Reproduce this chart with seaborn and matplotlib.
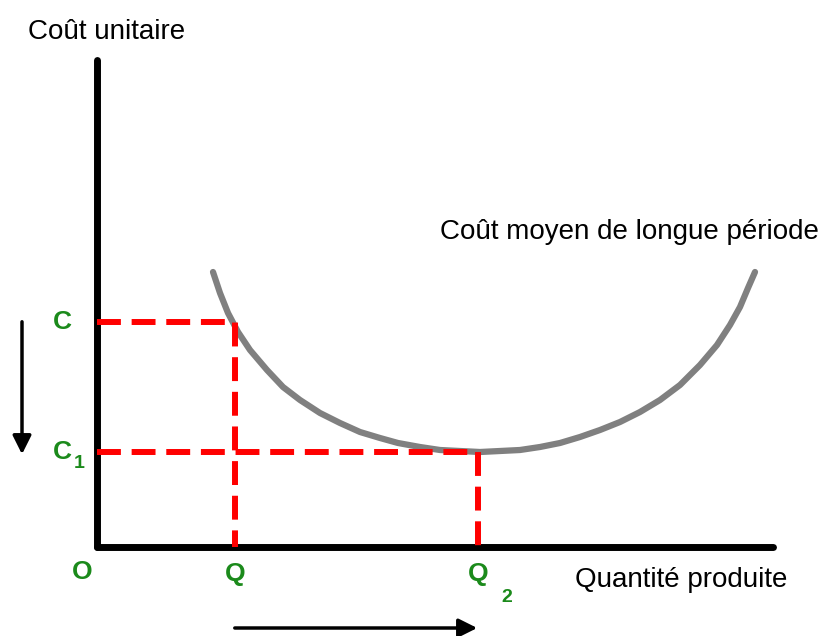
import matplotlib
matplotlib.use("Agg")
import matplotlib.pyplot as plt
import seaborn as sns

sns.set_style("white")
plt.rcParams['font.family'] = ['Liberation Sans', 'DejaVu Sans']
plt.rcParams['text.color'] = 'black'

# data (units: quantity / cost, origin at the axes corner)
x_axis_len = 676
y_axis_len = 487
Q = 138
Q2 = 381
C = 225
C1 = 95

# long-run average cost curve
curve_q = [116, 123, 131, 141, 153, 170, 186, 203, 223, 243, 263, 283,
           301, 323, 343, 363, 383, 403, 423, 443, 463, 483, 503, 523,
           543, 563, 583, 603, 620, 633, 643, 651, 658]
curve_c = [275, 254, 234, 215, 197, 177, 160, 147, 134, 124, 115, 109,
           104, 100, 97, 96, 95, 96, 97, 100, 104, 110, 117, 125,
           135, 147, 162, 182, 202, 222, 240, 259, 275]

green = '#1b8a1b'
red = '#ff0000'

fig = plt.figure(figsize=(8.29, 6.36), dpi=100)
ax = fig.add_axes([0, 0, 1, 1])
ax.set_xlim(-97, 732)
ax.set_ylim(-89, 547)
ax.axis('off')

# axes
ax.plot([0, 0], [y_axis_len, 0], color='black', lw=5, solid_capstyle='round')
ax.plot([0, x_axis_len], [0, 0], color='black', lw=5, solid_capstyle='round')

# cost curve
sns.lineplot(x=curve_q, y=curve_c, sort=False, color='#808080', lw=4.5,
             estimator=None, solid_joinstyle='round', ax=ax)

# red guide lines
ax.plot([0, Q, Q], [C, C, 0], color=red, lw=4.3, dashes=(4, 1.8))
ax.plot([0, Q2, Q2], [C1, C1, 0], color=red, lw=4.3, dashes=(4, 1.8))

# texts
ax.text(10, 515, "Coût unitaire", fontsize=20, ha='center', va='center')
ax.text(532, 315, "Coût moyen de longue période", fontsize=20,
        ha='center', va='center')
ax.text(584, -33, "Quantité produite", fontsize=20, ha='center', va='center')

lab = dict(color=green, fontweight='bold', fontsize=19, ha='center', va='center')
sub = dict(color=green, fontweight='bold', fontsize=14, ha='center', va='center')
ax.text(-35, C, "C", **lab)
ax.text(-35, C1, "C", **lab)
ax.text(-18, C1 - 11, "1", **sub)
ax.text(-15, -25, "O", **lab)
ax.text(Q, -27, "Q", **lab)
ax.text(Q2, -27, "Q", **lab)
ax.text(Q2 + 29, -51, "2", **sub)

# arrows
arr = dict(arrowstyle='-|>', color='black', lw=2.5, mutation_scale=28)
ax.annotate("", xy=(-75, C1 - 5), xytext=(-75, C + 3), arrowprops=arr)
ax.annotate("", xy=(Q2 + 2, -81), xytext=(Q - 3, -81), arrowprops=arr)

fig.savefig("out.png", dpi=100)
